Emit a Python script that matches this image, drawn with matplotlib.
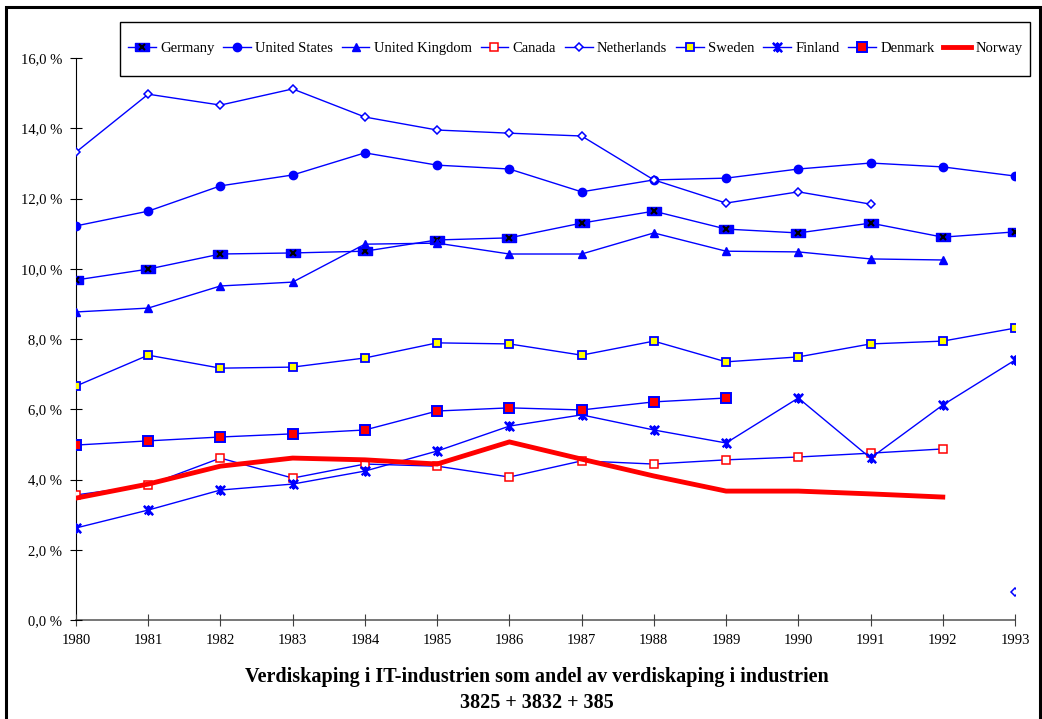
import numpy as np
import matplotlib.pyplot as plt
from matplotlib.legend_handler import HandlerTuple
from matplotlib.ticker import FuncFormatter

plt.rcParams['font.family'] = ['Liberation Serif', 'DejaVu Serif']

years = list(range(1980, 1994))
nan = np.nan

germany = [9.68, 9.99, 10.42, 10.45, 10.50, 10.82, 10.88, 11.30, 11.64, 11.13, 11.02, 11.30, 10.90, 11.05]
usa = [11.22, 11.64, 12.36, 12.67, 13.30, 12.95, 12.84, 12.19, 12.53, 12.58, 12.84, 13.01, 12.90, 12.64]
uk = [8.77, 8.88, 9.51, 9.62, 10.70, 10.73, 10.42, 10.42, 11.02, 10.50, 10.48, 10.28, 10.25, nan]
canada = [3.56, 3.84, 4.61, 4.04, 4.44, 4.38, 4.07, 4.53, 4.44, 4.56, 4.64, 4.75, 4.87, nan]
netherlands = [13.32, 14.97, 14.66, 15.12, 14.32, 13.95, 13.86, 13.78, 12.53, 11.87, 12.19, 11.84, nan, 0.80]
sweden = [6.66, 7.54, 7.17, 7.20, 7.46, 7.89, 7.86, 7.54, 7.94, 7.35, 7.49, 7.86, 7.94, 8.31]
finland = [2.62, 3.13, 3.70, 3.87, 4.24, 4.81, 5.52, 5.84, 5.41, 5.04, 6.32, 4.61, 6.12, 7.40]
denmark = [4.98, 5.10, 5.21, 5.30, 5.41, 5.95, 6.04, 5.98, 6.21, 6.32, nan, nan, nan, nan]
norway = [3.47, 3.87, 4.38, 4.61, 4.56, 4.44, 5.07, 4.58, 4.10, 3.67, 3.67, 3.59, 3.50, nan]

blue = '#0000ff'
red = '#ff0000'

fig = plt.figure(figsize=(10.42, 7.19), dpi=100)
ax = fig.add_axes([0.0729, 0.1377, 0.9012, 0.7816])

rect = [(-1, -0.6), (1, -0.6), (1, 0.6), (-1, 0.6), (-1, -0.6)]
star = [(-1, -1), (1, 1), (0, 0), (-1, 1), (1, -1), (0, 0), (0, 1), (0, -1), (0, 0)]

g1, = ax.plot(years, germany, color=blue, lw=1, marker=rect, ms=10, mfc=blue, mec=blue)
g2, = ax.plot(years, germany, ls='none', marker='x', ms=4.5, mec='black', mew=1.5)
us, = ax.plot(years, usa, color=blue, lw=1, marker='o', ms=6, mfc=blue, mec=blue)
ukl, = ax.plot(years, uk, color=blue, lw=1, marker='^', ms=6, mfc=blue, mec=blue)
ca, = ax.plot(years, canada, color=blue, lw=1, marker='s', ms=6, mfc='white', mec=red, mew=1.1)
nl, = ax.plot(years, netherlands, color=blue, lw=1, marker='D', ms=4.5, mfc='white', mec=blue, mew=1.1)
se, = ax.plot(years, sweden, color=blue, lw=1, marker='s', ms=6, mfc='yellow', mec=blue, mew=1.3)
fi, = ax.plot(years, finland, color=blue, lw=1, marker=star, ms=5.5, mfc='none', mec=blue, mew=1.7)
dk, = ax.plot(years, denmark, color=blue, lw=1, marker='s', ms=6.5, mfc=red, mec=blue, mew=1.4)
no, = ax.plot(years, norway, color=red, lw=3.5, solid_joinstyle='miter')

ax.set_xlim(1980, 1993)
ax.set_ylim(0, 16)
ax.set_xticks(years)
ax.set_yticks(np.arange(0, 17, 2))
ax.yaxis.set_major_formatter(FuncFormatter(lambda v, p: ('%.1f %%' % v).replace('.', ',')))
ax.tick_params(axis='both', direction='inout', length=8, labelsize=10.5, color='black')
ax.tick_params(axis='y', pad=6)
ax.tick_params(axis='x', pad=6, color='#404040')
for s in ['top', 'right']:
    ax.spines[s].set_visible(False)
ax.spines['left'].set_color('black')
ax.spines['bottom'].set_color('#606060')
ax.spines['bottom'].set_linewidth(1.2)
for s in ax.spines.values():
    s.set_zorder(0)

handles = [(g1, g2), us, ukl, ca, nl, se, fi, dk, no]
names = ['Germany', 'United States', 'United Kingdom', 'Canada', 'Netherlands',
         'Sweden', 'Finland', 'Denmark', 'Norway']
leg = fig.legend(handles, names, loc='center', bbox_to_anchor=(0.552, 0.932),
                 ncol=9, fontsize=10.5, frameon=False,
                 borderpad=0.4, handlelength=1.9,
                 handletextpad=0.3, columnspacing=0.6, borderaxespad=0,
                 handler_map={tuple: HandlerTuple(ndivide=1)})
leg.set_zorder(6)

# legend box drawn separately so it can be taller than the text row
fig.patches.append(plt.Rectangle((120 / 1042, 1 - 76 / 719), 910 / 1042, 54 / 719,
                                 transform=fig.transFigure, fill=True, facecolor='white',
                                 edgecolor='black', lw=1.0, zorder=2))

fig.text(0.515, 0.041, 'Verdiskaping i IT-industrien som andel av verdiskaping i industrien\n3825 + 3832 + 385',
         ha='center', va='center', fontsize=14.5, fontweight='bold', linespacing=1.4)

fig.patches.append(plt.Rectangle((0.006, -0.01), 0.992, 1.0, transform=fig.transFigure,
                                 fill=False, edgecolor='black', lw=2.2, zorder=3))

fig.savefig('out.png', dpi=100)
